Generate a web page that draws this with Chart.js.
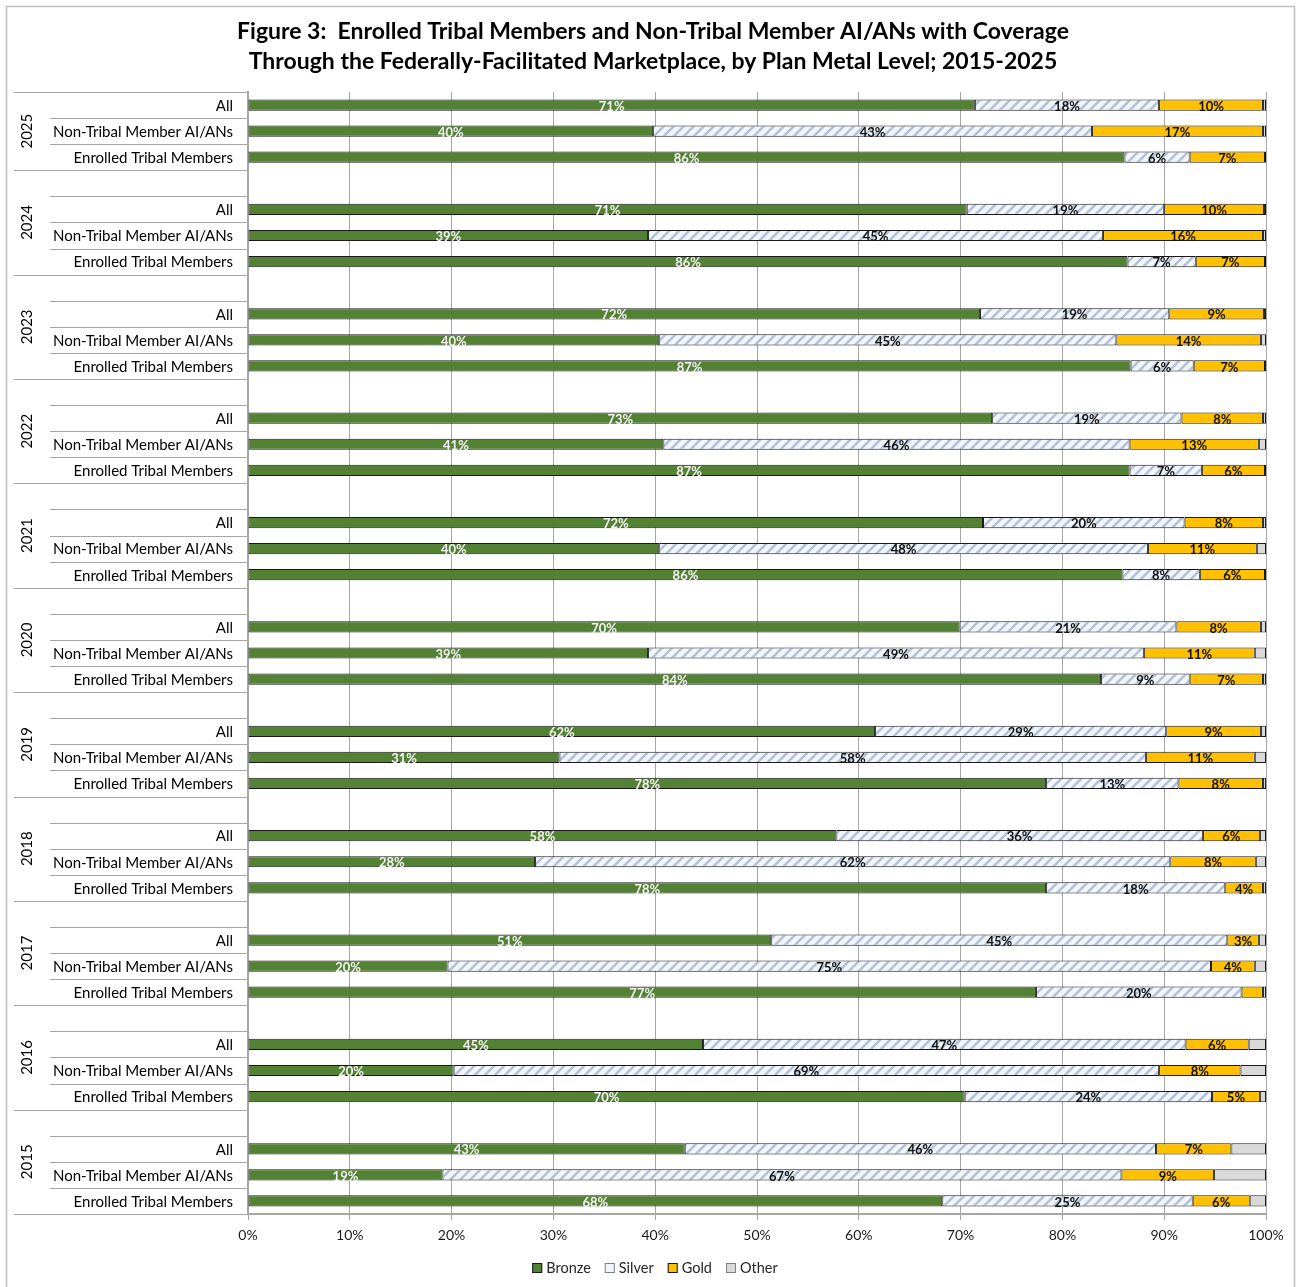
<!DOCTYPE html>
<html>
<head>
<meta charset="utf-8">
<title>Figure 3: Plan Metal Level, 2015-2025</title>
<script src="https://cdn.jsdelivr.net/npm/chart.js@4/dist/chart.umd.min.js"></script>
<style>
  html, body { margin: 0; padding: 0; background: #ffffff; }
  #wrap { width: 1300px; height: 1287px; position: relative; }
</style>
</head>
<body>
<div id="wrap"><canvas id="chart" width="1300" height="1287"></canvas></div>
<script>
// ---- data -------------------------------------------------------------
const titleLines = [
  'Figure 3:  Enrolled Tribal Members and Non-Tribal Member AI/ANs with Coverage',
  'Through the Federally-Facilitated Marketplace, by Plan Metal Level; 2015-2025'
];
const years = ['2025', '2024', '2023', '2022', '2021', '2020', '2019', '2018', '2017', '2016', '2015'];
const groups = ['All', 'Non-Tribal Member AI/ANs', 'Enrolled Tribal Members'];
const seriesNames = ['Bronze', 'Silver', 'Gold', 'Other'];
const tickValues = [0, 10, 20, 30, 40, 50, 60, 70, 80, 90, 100];

// Percent of enrollees, listed year by year (2025 first); within a year: All, Non-Tribal, Enrolled
const bronze = [
  71.4, 39.8, 86.1,
  70.6, 39.3, 86.4,
  71.9, 40.4, 86.7,
  73.1, 40.8, 86.6,
  72.2, 40.4, 85.9,
  69.9, 39.3, 83.8,
  61.6, 30.6, 78.4,
  57.8, 28.2, 78.4,
  51.4, 19.6, 77.4,
  44.7, 20.2, 70.4,
  42.9, 19.1, 68.2
];
const silver = [
  18.1, 43.1, 6.4,
  19.4, 44.7, 6.7,
  18.6, 44.9, 6.2,
  18.6, 45.8, 7.1,
  19.8, 48.0, 7.6,
  21.3, 48.7, 8.7,
  28.6, 57.6, 13.0,
  36.0, 62.4, 17.6,
  44.8, 75.0, 20.2,
  47.4, 69.3, 24.3,
  46.3, 66.7, 24.6
];
const gold = [
  10.2, 16.8, 7.4,
  9.8, 15.7, 6.8,
  9.3, 14.2, 7.0,
  8.0, 12.7, 6.2,
  7.7, 10.7, 6.4,
  8.3, 10.9, 7.2,
  9.3, 10.7, 8.3,
  5.6, 8.4, 3.7,
  3.1, 4.3, 2.1,
  6.2, 8.0, 4.7,
  7.4, 9.1, 5.6
];
const other = [
  0.3, 0.3, 0.1,
  0.2, 0.3, 0.1,
  0.2, 0.5, 0.1,
  0.3, 0.7, 0.1,
  0.3, 0.9, 0.1,
  0.5, 1.1, 0.3,
  0.5, 1.1, 0.3,
  0.6, 1.0, 0.3,
  0.7, 1.1, 0.3,
  1.7, 2.5, 0.6,
  3.4, 5.1, 1.6
];

// ---- rows: every year after the first gets an empty spacer row on top ----
const rows = [];
years.forEach((yr, yi) => {
  if (yi > 0) rows.push({ year: yr, sub: '', idx: -1 });
  groups.forEach((g, gi) => rows.push({ year: yr, sub: g, idx: yi * groups.length + gi }));
});
const pick = arr => rows.map(r => (r.idx < 0 ? null : arr[r.idx]));

// ---- styles -----------------------------------------------------------
const FONT = 'Lato, "Open Sans", "DejaVu Sans", sans-serif';
const GREEN = '#548235', GOLD = '#FFC000', GREY = '#D9D9D9';
const RULE = '#A6A6A6';

function silverHatch() {
  const t = document.createElement('canvas');
  t.width = 10; t.height = 10;
  const g = t.getContext('2d');
  g.fillStyle = '#F2F6FB';
  g.fillRect(0, 0, 10, 10);
  g.strokeStyle = '#B3C2D5';
  g.lineWidth = 2.6;
  g.beginPath();
  g.moveTo(-2, 12); g.lineTo(12, -2);
  g.moveTo(-3, 3); g.lineTo(3, -3);
  g.moveTo(7, 13); g.lineTo(13, 7);
  g.stroke();
  return g.createPattern(t, 'repeat');
}

// ---- plugins ------------------------------------------------------------
const frameAndTitle = {
  id: 'frameAndTitle',
  beforeDraw(chart) {
    const ctx = chart.ctx;
    ctx.save();
    ctx.fillStyle = '#ffffff';
    ctx.fillRect(0, 0, chart.width, chart.height);
    ctx.strokeStyle = '#BFBFBF';
    ctx.lineWidth = 1.5;
    ctx.strokeRect(6.5, 6.5, 1288, 1290);
    ctx.restore();
  },
  afterDraw(chart) {
    const ctx = chart.ctx;
    ctx.save();
    ctx.fillStyle = '#000000';
    ctx.textAlign = 'center';
    ctx.textBaseline = 'middle';
    ctx.font = 'bold 100px ' + FONT;
    const w = ctx.measureText(titleLines[0]).width;
    const size = 100 * 832 / w;
    ctx.font = 'bold ' + size.toFixed(2) + 'px ' + FONT;
    ctx.fillText(titleLines[0], 653, 32);
    ctx.fillText(titleLines[1], 653, 62);
    ctx.restore();
  }
};

const categoryLabels = {
  id: 'categoryLabels',
  afterDraw(chart) {
    const ctx = chart.ctx;
    const ys = chart.scales.y;
    const left = chart.chartArea.left;
    const h = (ys.bottom - ys.top) / rows.length;
    ctx.save();
    ctx.strokeStyle = RULE;
    ctx.lineWidth = 1;
    const hline = (x0, y) => {
      const yy = Math.round(y) + 0.5;
      ctx.beginPath(); ctx.moveTo(x0, yy); ctx.lineTo(left, yy); ctx.stroke();
    };
    hline(14, ys.top);
    rows.forEach((r, i) => {
      const cy = ys.getPixelForValue(i);
      const next = rows[i + 1];
      const yearEnd = !next || next.year !== r.year;
      hline(yearEnd ? 14 : 50, cy + h / 2);
    });
    // sub-category labels
    ctx.fillStyle = '#000000';
    ctx.font = '15px ' + FONT;
    ctx.textAlign = 'right';
    ctx.textBaseline = 'middle';
    rows.forEach((r, i) => {
      if (r.sub) ctx.fillText(r.sub, 233, ys.getPixelForValue(i) + 1);
    });
    // year labels, rotated
    years.forEach(yr => {
      const idx = rows.map((r, i) => (r.year === yr ? i : -1)).filter(i => i >= 0);
      const y0 = ys.getPixelForValue(idx[0]) - h / 2;
      const y1 = ys.getPixelForValue(idx[idx.length - 1]) + h / 2;
      ctx.save();
      ctx.translate(27, (y0 + y1) / 2);
      ctx.rotate(-Math.PI / 2);
      ctx.textAlign = 'center';
      ctx.fillText(yr, 0, 0);
      ctx.restore();
    });
    ctx.restore();
  }
};

const segmentLabels = {
  id: 'segmentLabels',
  afterDatasetsDraw(chart) {
    const ctx = chart.ctx;
    ctx.save();
    ctx.font = 'bold 13px ' + FONT;
    ctx.textAlign = 'center';
    ctx.textBaseline = 'middle';
    chart.data.datasets.forEach((ds, di) => {
      if (!ds.labelColor) return;
      const meta = chart.getDatasetMeta(di);
      meta.data.forEach((bar, i) => {
        const v = ds.data[i];
        if (v == null || v < 2.5) return;
        const p = bar.getProps(['x', 'y', 'base'], true);
        ctx.fillStyle = ds.labelColor;
        ctx.fillText(Math.round(v) + '%', (p.x + p.base) / 2, p.y + 1.5);
      });
    });
    ctx.restore();
  }
};

const legendRow = {
  id: 'legendRow',
  afterDraw(chart) {
    const ctx = chart.ctx;
    ctx.save();
    ctx.font = '14.5px ' + FONT;
    ctx.textBaseline = 'middle';
    ctx.textAlign = 'left';
    const box = 10, gapText = 4, gapItem = 14;
    const fills = [GREEN, '#F2F6FA', GOLD, GREY];
    const strokes = ['#1a1a1a', '#7F7F7F', '#1a1a1a', '#7F7F7F'];
    const widths = seriesNames.map(n => box + gapText + ctx.measureText(n).width);
    const total = widths.reduce((a, b) => a + b, 0) + gapItem * (seriesNames.length - 1);
    let x = 655 - total / 2;
    const cy = 1268;
    seriesNames.forEach((n, i) => {
      ctx.fillStyle = fills[i];
      ctx.fillRect(x, cy - box / 2, box, box);
      ctx.strokeStyle = strokes[i];
      ctx.lineWidth = 1;
      ctx.strokeRect(x + 0.5, cy - box / 2 + 0.5, box - 1, box - 1);
      ctx.fillStyle = '#262626';
      ctx.fillText(n, x + box + gapText, cy + 0.5);
      x += widths[i] + gapItem;
    });
    ctx.restore();
  }
};

// ---- chart --------------------------------------------------------------
const barStyle = { borderColor: '#1a1a1a', borderWidth: 1, borderSkipped: false,
                   barPercentage: 0.43, categoryPercentage: 1.0 };

new Chart(document.getElementById('chart'), {
  type: 'bar',
  data: {
    labels: rows.map(r => r.sub),
    datasets: [
      Object.assign({ label: seriesNames[0], data: pick(bronze), backgroundColor: GREEN, labelColor: '#F4F4F4' }, barStyle),
      Object.assign({ label: seriesNames[1], data: pick(silver), backgroundColor: silverHatch(), labelColor: '#111111' }, barStyle),
      Object.assign({ label: seriesNames[2], data: pick(gold), backgroundColor: GOLD, labelColor: '#111111' }, barStyle),
      Object.assign({ label: seriesNames[3], data: pick(other), backgroundColor: GREY }, barStyle)
    ]
  },
  options: {
    indexAxis: 'y',
    responsive: false,
    devicePixelRatio: 1,
    animation: false,
    layout: { padding: { top: 92, right: 34, bottom: 0, left: 0 } },
    plugins: { legend: { display: false }, title: { display: false }, tooltip: { enabled: false } },
    scales: {
      x: {
        stacked: true, min: 0, max: 100,
        afterBuildTicks: s => { s.ticks = tickValues.map(v => ({ value: v })); },
        afterFit: s => { s.height = 73; },
        ticks: { callback: v => v + '%', color: '#1a1a1a', font: { family: FONT, size: 14 }, padding: 7, maxRotation: 0 },
        grid: { color: RULE, lineWidth: 1, tickLength: 6, drawTicks: true },
        border: { color: RULE, width: 2 }
      },
      y: {
        stacked: true,
        afterFit: s => { s.width = 248; },
        ticks: { display: false },
        grid: { display: false, drawTicks: false },
        border: { color: RULE, width: 2 }
      }
    }
  },
  plugins: [frameAndTitle, segmentLabels, categoryLabels, legendRow]
});
</script>
</body>
</html>
